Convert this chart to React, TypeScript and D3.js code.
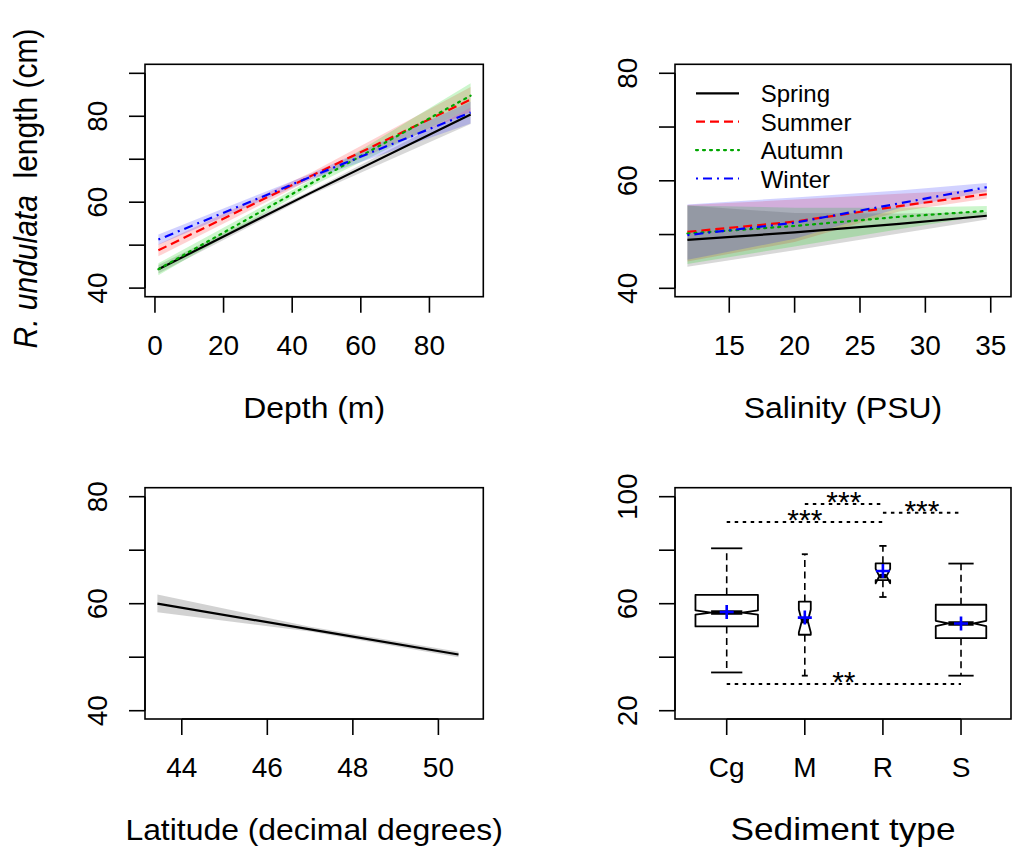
import * as d3 from 'd3'

const FONT = "'Liberation Sans', Arial, Helvetica, sans-serif"

// four seasonal fits share the same look in both top panels
const SEASONS = ['Spring', 'Summer', 'Autumn', 'Winter']
const SEASON_COLOR = ['#000000', '#ff0000', '#00a600', '#0000ff']
const BAND_COLOR = ['#7f7f7f', '#ff2020', '#00d000', '#2020ff']
const SEASON_DASH = ['none', '9,5', '2,5', '2,5,9,5']

// length vs depth: fitted value and 95% band at three depths
const DEPTH_X = [1, 46, 92]
const DEPTH_FIT = [
  [44.4, 62.4, 80.4],
  [48.8, 66.3, 83.9],
  [44.4, 64.6, 84.8],
  [51.3, 66.1, 80.9],
]
const DEPTH_LO = [
  [43.4, 61.9, 78.2],
  [47.4, 65.5, 81.0],
  [43.0, 63.8, 81.9],
  [50.1, 65.4, 78.3],
]
const DEPTH_HI = [
  [45.4, 62.9, 82.0],
  [50.2, 67.1, 86.8],
  [45.8, 65.4, 87.7],
  [52.5, 66.8, 83.4],
]
const DEPTH_TICKS = [0, 20, 40, 60, 80]
const DEPTH_YTICKS = [40, 50, 60, 70, 80, 90]

// length vs salinity
const SAL_X = [11.8, 20, 28, 34.7]
const SAL_FIT = [
  [49.0, 50.4, 52.0, 53.5],
  [50.5, 52.4, 55.3, 57.5],
  [50.2, 51.6, 53.3, 54.4],
  [49.9, 52.2, 55.8, 58.8],
]
const SAL_LO = [
  [44.0, 47.1, 50.2, 52.8],
  [45.0, 48.6, 54.3, 56.7],
  [44.5, 47.8, 51.0, 53.6],
  [45.3, 49.2, 54.9, 58.0],
]
const SAL_HI = [
  [55.4, 54.0, 53.9, 54.2],
  [55.5, 56.5, 57.6, 58.4],
  [55.4, 55.0, 55.0, 55.3],
  [55.6, 56.9, 58.2, 59.6],
]
const SAL_TICKS = [15, 20, 25, 30, 35]

// length vs latitude
const LAT_X = [43.43, 47, 50.47]
const LAT_FIT = [60.0, 55.2, 50.5]
const LAT_LO = [58.4, 54.8, 50.0]
const LAT_HI = [61.7, 55.7, 51.0]
const LAT_TICKS = [44, 46, 48, 50]

const LEN_YTICKS = [40, 50, 60, 70, 80]
const LEN_YLABELS = [40, 60, 80]

// length by sediment type (notched boxplot, varwidth)
const SEDIMENTS = ['Cg', 'M', 'R', 'S']
const SED_N = [520, 19, 28, 340]
const SED_LOWER = [34.3, 33.1, 62.5, 33.1]
const SED_Q1 = [51.5, 48.4, 68.8, 47.1]
const SED_MEDIAN = [56.7, 53.5, 70.3, 52.6]
const SED_Q3 = [63.3, 60.8, 75.1, 59.6]
const SED_UPPER = [80.7, 78.5, 81.6, 75.0]
const SED_NOTCH_LO = [55.9, 49.2, 67.6, 51.6]
const SED_NOTCH_HI = [57.5, 57.8, 73.0, 53.6]
const SED_MEAN = [56.9, 54.8, 72.2, 52.6]
const SED_YTICKS = [20, 40, 60, 80, 100]
const SED_YLABELS = [20, 60, 100]

const SIG_FROM = ['Cg', 'M', 'R', 'Cg']
const SIG_TO = ['R', 'R', 'S', 'S']
const SIG_LEVEL = [90.5, 97.3, 94.0, 30.0]
const SIG_TEXT = ['***', '***', '***', '**']

type Frame = { x0: number; x1: number; y0: number; y1: number }
type Scale = (v: number) => number

const TL: Frame = { x0: 145, x1: 483.3, y0: 64.3, y1: 296.7 }
const TR: Frame = { x0: 675, x1: 1011, y0: 64.3, y1: 296.7 }
const BL: Frame = { x0: 145, x1: 483.3, y0: 487.7, y1: 719 }
const BR: Frame = { x0: 675, x1: 1011, y0: 487.7, y1: 719 }

const TICK_FS = 28
const TITLE_FS = 29

function Border({ f }: { f: Frame }) {
  return <rect x={f.x0} y={f.y0} width={f.x1 - f.x0} height={f.y1 - f.y0} fill="none" stroke="#000" strokeWidth={1.6} />
}

function XAxis({ f, x, ticks, labels }: { f: Frame; x: Scale; ticks: number[]; labels?: string[] }) {
  return (
    <g>
      <line x1={x(ticks[0])} x2={x(ticks[ticks.length - 1])} y1={f.y1} y2={f.y1} stroke="#000" strokeWidth={1.6} />
      {ticks.map((t, i) => (
        <g key={t}>
          <line x1={x(t)} x2={x(t)} y1={f.y1} y2={f.y1 + 16} stroke="#000" strokeWidth={1.6} />
          <text x={x(t)} y={f.y1 + 58} textAnchor="middle" fontSize={TICK_FS}>{labels ? labels[i] : t}</text>
        </g>
      ))}
    </g>
  )
}

function YAxis({ f, y, ticks, labels }: { f: Frame; y: Scale; ticks: number[]; labels: number[] }) {
  const lx = f.x0 - 38
  return (
    <g>
      <line x1={f.x0} x2={f.x0} y1={y(ticks[0])} y2={y(ticks[ticks.length - 1])} stroke="#000" strokeWidth={1.6} />
      {ticks.map(t => (
        <line key={t} x1={f.x0 - 16} x2={f.x0} y1={y(t)} y2={y(t)} stroke="#000" strokeWidth={1.6} />
      ))}
      {labels.map(t => (
        <text key={t} x={lx} y={y(t)} textAnchor="middle" fontSize={TICK_FS} transform={`rotate(-90 ${lx} ${y(t)})`}>{t}</text>
      ))}
    </g>
  )
}

function Title({ x, y, size, children }: { x: number; y: number; size: number; children: any }) {
  return (
    <text transform={`translate(${x},${y}) scale(1.1,1)`} textAnchor="middle" fontSize={size}>{children}</text>
  )
}

function SeasonFits({ xs, fit, lo, hi, x, y }: { xs: number[]; fit: number[][]; lo: number[][]; hi: number[][]; x: Scale; y: Scale }) {
  const area = d3.area<number>().x((_, i) => x(xs[i]))
  const line = d3.line<number>().x((_, i) => x(xs[i])).y(d => y(d))
  return (
    <g>
      {SEASONS.map((s, k) => (
        <path key={s} d={area.y0((_, i) => y(lo[k][i])).y1((_, i) => y(hi[k][i]))(fit[k]) || ''}
          fill={BAND_COLOR[k]} fillOpacity={k === 0 ? 0.3 : 0.2} stroke="none" />
      ))}
      {SEASONS.map((s, k) => (
        <path key={s} d={line(fit[k]) || ''} fill="none" stroke={SEASON_COLOR[k]} strokeWidth={2.2}
          strokeDasharray={SEASON_DASH[k]} strokeLinecap={k === 2 ? 'round' : 'butt'} />
      ))}
    </g>
  )
}

export default function App() {
  const xDepth = d3.scaleLinear().domain([-2.9, 95.7]).range([TL.x0, TL.x1])
  const yDepth = d3.scaleLinear().domain([38.0, 92.1]).range([TL.y1, TL.y0])
  const xSal = d3.scaleLinear().domain([10.85, 36.55]).range([TR.x0, TR.x1])
  const ySal = d3.scaleLinear().domain([38.44, 81.67]).range([TR.y1, TR.y0])
  const xLat = d3.scaleLinear().domain([43.14, 51.05]).range([BL.x0, BL.x1])
  const yLat = d3.scaleLinear().domain([38.45, 81.68]).range([BL.y1, BL.y0])
  const xSed = d3.scaleLinear().domain([0.338, 4.64]).range([BR.x0, BR.x1])
  const ySed = d3.scaleLinear().domain([16.9, 103.36]).range([BR.y1, BR.y0])
  const pos = (c: string) => xSed(SEDIMENTS.indexOf(c) + 1)
  const maxN = d3.max(SED_N) as number

  const area = d3.area<number>().x((_, i) => xLat(LAT_X[i])).y0((_, i) => yLat(LAT_LO[i])).y1((_, i) => yLat(LAT_HI[i]))
  const latLine = d3.line<number>().x((_, i) => xLat(LAT_X[i])).y(d => yLat(d))

  return (
    <svg width={1012} height={852} style={{ position: 'absolute', left: 0, top: 0, background: '#fff' }}
      fontFamily={FONT} fill="#000">
      <rect width={1012} height={852} fill="#fff" />

      {/* depth */}
      <SeasonFits xs={DEPTH_X} fit={DEPTH_FIT} lo={DEPTH_LO} hi={DEPTH_HI} x={xDepth} y={yDepth} />
      <Border f={TL} />
      <XAxis f={TL} x={xDepth} ticks={DEPTH_TICKS} />
      <YAxis f={TL} y={yDepth} ticks={DEPTH_YTICKS} labels={LEN_YLABELS} />
      <Title x={(TL.x0 + TL.x1) / 2} y={418} size={TITLE_FS}>Depth (m)</Title>
      <text transform={`translate(37,${(TL.y0 + TL.y1) / 2 + 8}) scale(1.1,1) rotate(-90)`} textAnchor="middle"
        fontSize={30} style={{ whiteSpace: 'pre' }}>
        <tspan fontStyle="italic">R. undulata</tspan>{'\u00a0\u00a0length (cm)'}
      </text>

      {/* salinity */}
      <SeasonFits xs={SAL_X} fit={SAL_FIT} lo={SAL_LO} hi={SAL_HI} x={xSal} y={ySal} />
      <Border f={TR} />
      <XAxis f={TR} x={xSal} ticks={SAL_TICKS} />
      <YAxis f={TR} y={ySal} ticks={LEN_YTICKS} labels={LEN_YLABELS} />
      <Title x={(TR.x0 + TR.x1) / 2} y={418} size={TITLE_FS}>Salinity (PSU)</Title>
      {SEASONS.map((s, k) => (
        <g key={s} transform={`translate(0,${93.3 + k * 28.4})`}>
          <line x1={696} x2={739} y1={0} y2={0} stroke={SEASON_COLOR[k]} strokeWidth={2.2}
            strokeDasharray={SEASON_DASH[k]} strokeLinecap={k === 2 ? 'round' : 'butt'} />
          <text x={760.7} y={9} fontSize={24}>{s}</text>
        </g>
      ))}

      {/* latitude */}
      <path d={area(LAT_FIT) || ''} fill="#7f7f7f" fillOpacity={0.35} />
      <path d={latLine(LAT_FIT) || ''} fill="none" stroke="#000" strokeWidth={2.2} />
      <Border f={BL} />
      <XAxis f={BL} x={xLat} ticks={LAT_TICKS} />
      <YAxis f={BL} y={yLat} ticks={LEN_YTICKS} labels={LEN_YLABELS} />
      <Title x={(BL.x0 + BL.x1) / 2} y={840} size={TITLE_FS}>Latitude (decimal degrees)</Title>

      {/* sediment */}
      {SEDIMENTS.map((c, i) => {
        const cx = pos(c)
        const hw = xSed(1 + 0.4 * Math.sqrt(SED_N[i] / maxN)) - xSed(1)
        const pts: [number, number][] = [
          [cx - hw, ySed(SED_Q1[i])], [cx + hw, ySed(SED_Q1[i])], [cx + hw, ySed(SED_NOTCH_LO[i])],
          [cx + hw / 2, ySed(SED_MEDIAN[i])], [cx + hw, ySed(SED_NOTCH_HI[i])], [cx + hw, ySed(SED_Q3[i])],
          [cx - hw, ySed(SED_Q3[i])], [cx - hw, ySed(SED_NOTCH_HI[i])], [cx - hw / 2, ySed(SED_MEDIAN[i])],
          [cx - hw, ySed(SED_NOTCH_LO[i])],
        ]
        const m = ySed(SED_MEAN[i])
        return (
          <g key={c}>
            <line x1={cx} x2={cx} y1={ySed(SED_Q3[i])} y2={ySed(SED_UPPER[i])} stroke="#000" strokeWidth={1.6} strokeDasharray="7,4.5" />
            <line x1={cx} x2={cx} y1={ySed(SED_Q1[i])} y2={ySed(SED_LOWER[i])} stroke="#000" strokeWidth={1.6} strokeDasharray="7,4.5" />
            <line x1={cx - hw / 2} x2={cx + hw / 2} y1={ySed(SED_UPPER[i])} y2={ySed(SED_UPPER[i])} stroke="#000" strokeWidth={1.8} />
            <line x1={cx - hw / 2} x2={cx + hw / 2} y1={ySed(SED_LOWER[i])} y2={ySed(SED_LOWER[i])} stroke="#000" strokeWidth={1.8} />
            <polygon points={pts.map(p => p.join(',')).join(' ')} fill="#fff" stroke="#000" strokeWidth={1.8} strokeLinejoin="round" />
            <line x1={cx - hw / 2} x2={cx + hw / 2} y1={ySed(SED_MEDIAN[i])} y2={ySed(SED_MEDIAN[i])} stroke="#000" strokeWidth={4.5} />
            <path d={`M${cx - 7},${m}H${cx + 7}M${cx},${m - 7}V${m + 7}`} stroke="#0000ff" strokeWidth={2.6} fill="none" />
          </g>
        )
      })}
      {SIG_TEXT.map((s, i) => {
        const a = pos(SIG_FROM[i]), b = pos(SIG_TO[i])
        const yy = ySed(SIG_LEVEL[i])
        return (
          <g key={i}>
            <line x1={a} x2={b} y1={yy} y2={yy} stroke="#000" strokeWidth={2} strokeDasharray="3.5,4.5" />
            <text x={(a + b) / 2} y={yy + 8} textAnchor="middle" fontSize={30}>{s}</text>
          </g>
        )
      })}
      <Border f={BR} />
      <XAxis f={BR} x={v => xSed(v)} ticks={[1, 2, 3, 4]} labels={SEDIMENTS} />
      <YAxis f={BR} y={ySed} ticks={SED_YTICKS} labels={SED_YLABELS} />
      <Title x={(BR.x0 + BR.x1) / 2} y={840} size={32}>Sediment type</Title>
    </svg>
  )
}
